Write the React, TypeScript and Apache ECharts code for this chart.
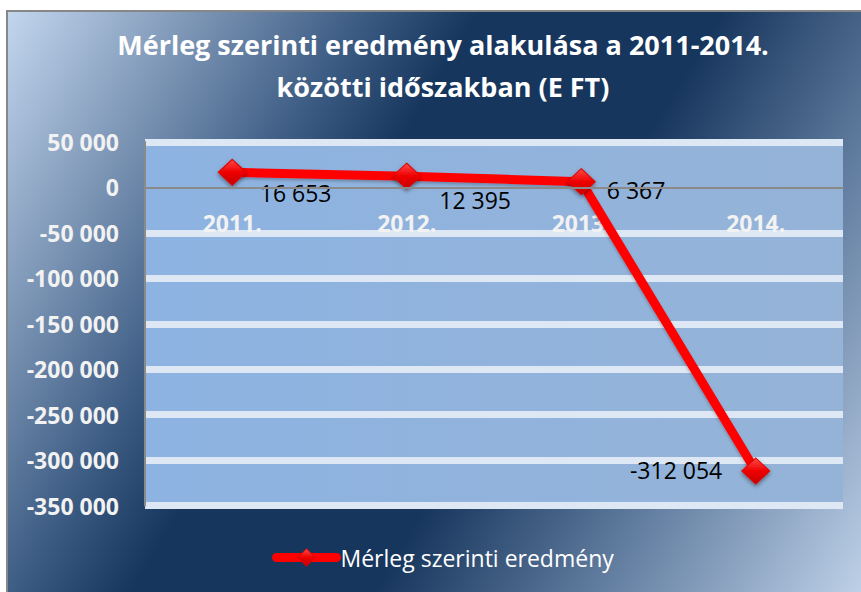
import React, { useEffect, useRef } from "react";
import * as echarts from "echarts";

const categories = ["2011.", "2012.", "2013.", "2014."];
const values = [16653, 12395, 6367, -312054];
const seriesName = "Mérleg szerinti eredmény";
const titleText = "Mérleg szerinti eredmény alakulása a 2011-2014.\nközötti időszakban (E FT)";
const yMin = -350000;
const yMax = 50000;
const yStep = 50000;

const labelPos = ["right", "right", "right", "left"];
const labelOffsets = [
  [8, 21],
  [13, 24],
  [6, 8],
  [-14, -1],
];

function fmt(v: number): string {
  const s = Math.abs(Math.round(v))
    .toString()
    .replace(/\B(?=(\d{3})+(?!\d))/g, " ");
  return (v < 0 ? "-" : "") + s;
}

const FONT = "'Open Sans', 'DejaVu Sans', sans-serif";

const GRID_TOP = 142;
const GRID_BOTTOM = 86.5;
const H = 592;

export default function App() {
  const ref = useRef<HTMLDivElement>(null);
  useEffect(() => {
    if (!ref.current) return;
    const chart = echarts.init(ref.current, undefined, { renderer: "svg" });
    const nTicks = Math.round((yMax - yMin) / yStep) + 1;
    const gridColors: string[] = [];
    for (let i = 0; i < nTicks; i++) {
      const v = yMin + i * yStep;
      gridColors.push(v === 0 ? "rgba(0,0,0,0)" : "#dde8f4");
    }
    const plotH = H - GRID_TOP - GRID_BOTTOM;
    const zeroFromBottom = (0 - yMin) / (yMax - yMin) * plotH;
    const markerFill = new echarts.graphic.LinearGradient(0, 0, 0, 1, [
      { offset: 0, color: "#ff4a4a" },
      { offset: 0.5, color: "#ee0000" },
      { offset: 1, color: "#c40000" },
    ]);
    const option: any = {
      animation: false,
      textStyle: { fontFamily: FONT },
      graphic: {
        elements: [
          {
            type: "rect",
            z: -100,
            silent: true,
            shape: { x: 7, y: 11, width: 870, height: 600 },
            style: {
              fill: new echarts.graphic.LinearGradient(
                0,
                0,
                894,
                536,
                [
                  { offset: 0, color: "#c8dbf2" },
                  { offset: 0.17, color: "#7c95b5" },
                  { offset: 0.3, color: "#3f5e85" },
                  { offset: 0.4, color: "#17365d" },
                  { offset: 0.6, color: "#17365d" },
                  { offset: 0.8, color: "#6883a5" },
                  { offset: 1, color: "#bdd0e7" },
                ],
                true
              ),
              stroke: "#878787",
              lineWidth: 2,
            },
          },
        ],
      },
      title: {
        text: titleText,
        left: 438,
        top: 18,
        textAlign: "center",
        textStyle: {
          color: "#ffffff",
          fontSize: 27,
          fontWeight: "bold",
          lineHeight: 42,
          fontFamily: FONT,
        },
      },
      legend: {
        data: [seriesName],
        left: 272,
        top: 546,
        padding: 0,
        itemWidth: 60,
        itemHeight: 22,
        itemGap: 4,
        lineStyle: { color: "#ff0000", width: 9, cap: "round" },
        itemStyle: { color: markerFill, borderColor: "#e00000", borderWidth: 1 },
        textStyle: { color: "#ffffff", fontSize: 23, fontFamily: FONT, padding: [0, 0, 0, -1] },
      },
      grid: {
        left: 145,
        right: 18,
        top: GRID_TOP,
        bottom: GRID_BOTTOM,
        show: true,
        borderWidth: 0,
        backgroundColor: new echarts.graphic.LinearGradient(0, 0, 1, 0, [
          { offset: 0, color: "#8db3e2" },
          { offset: 1, color: "#95b3d7" },
        ]),
      },
      xAxis: [
        {
          type: "category",
          data: categories,
          boundaryGap: true,
          axisLine: { show: true, onZero: true, lineStyle: { color: "#8a8a8a", width: 2 } },
          axisTick: { show: false },
          axisLabel: { show: false },
          splitLine: { show: false },
          z: 5,
        },
        {
          type: "category",
          data: categories,
          position: "bottom",
          boundaryGap: true,
          offset: -zeroFromBottom,
          axisLine: { show: false, onZero: false },
          axisTick: { show: false },
          axisLabel: {
            color: "#f2f2f2",
            fontSize: 23,
            fontWeight: "bold",
            margin: 24,
            fontFamily: FONT,
          },
          splitLine: { show: false },
        },
      ],
      yAxis: {
        type: "value",
        min: yMin,
        max: yMax,
        interval: yStep,
        axisLine: { show: true, onZero: false, lineStyle: { color: "#8a8a8a", width: 2 } },
        axisTick: { show: false },
        axisLabel: {
          color: "#f2f2f2",
          fontSize: 23,
          fontWeight: "bold",
          margin: 26,
          formatter: (v: number) => fmt(v),
          fontFamily: FONT,
        },
        splitLine: { show: true, lineStyle: { color: gridColors, width: 7 } },
      },
      series: [
        {
          name: seriesName,
          type: "line",
          xAxisIndex: 0,
          data: values.map((v, i) => ({
            value: v,
            label: {
              position: labelPos[i],
              offset: labelOffsets[i],
            },
          })),
          symbol: "diamond",
          symbolSize: [28, 26],
          lineStyle: {
            color: "#ff0000",
            width: 9,
            shadowColor: "rgba(0,0,0,0.25)",
            shadowBlur: 3,
            shadowOffsetY: 2,
          },
          itemStyle: {
            color: markerFill,
            borderColor: "#e00000",
            borderWidth: 1,
            shadowColor: "rgba(0,0,0,0.45)",
            shadowBlur: 4,
            shadowOffsetY: 2,
          },
          label: {
            show: true,
            color: "#000000",
            fontSize: 23,
            fontFamily: FONT,
            formatter: (p: any) => fmt(p.value),
          },
          z: 3,
        },
      ],
    };
    chart.setOption(option);
    return () => chart.dispose();
  }, []);
  return (
    <div
      ref={ref}
      style={{ position: "absolute", left: 0, top: 0, width: 861, height: 592, background: "#ffffff" }}
    />
  );
}
